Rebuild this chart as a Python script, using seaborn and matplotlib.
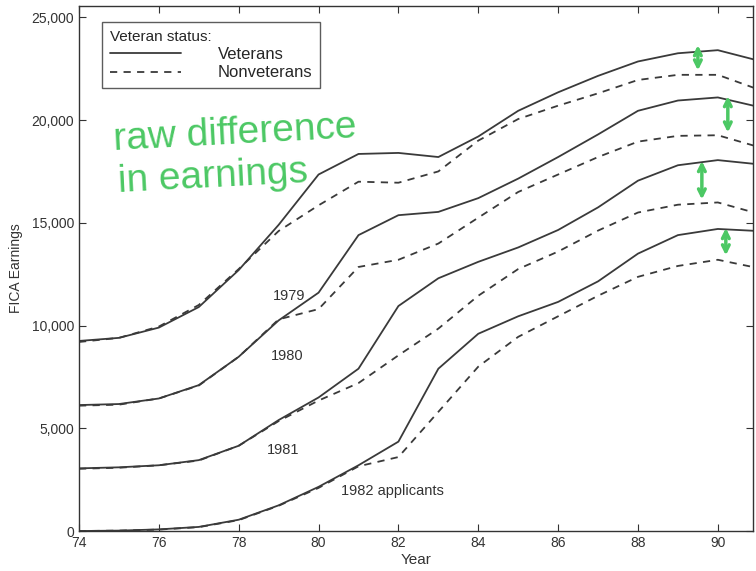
import numpy as np
import pandas as pd
import matplotlib
matplotlib.use("Agg")
import matplotlib.pyplot as plt
from matplotlib.lines import Line2D
from matplotlib.ticker import FuncFormatter
import seaborn as sns

years = list(range(74, 92))

vet_1979 = [9250, 9400, 9900, 10900, 12700, 14900, 17350, 18350, 18400, 18200,
            19200, 20450, 21350, 22150, 22850, 23250, 23400, 22900]
nonvet_1979 = [9200, 9400, 9950, 11000, 12750, 14600, 15850, 17000, 16950, 17500,
               19000, 20050, 20700, 21300, 21950, 22200, 22200, 21500]
vet_1980 = [6130, 6180, 6450, 7100, 8480, 10250, 11600, 14400, 15370, 15530,
            16200, 17150, 18200, 19300, 20450, 20950, 21100, 20650]
nonvet_1980 = [6100, 6150, 6450, 7080, 8480, 10300, 10800, 12850, 13200, 13990,
               15250, 16500, 17350, 18200, 18950, 19230, 19260, 18700]
vet_1981 = [3050, 3100, 3200, 3450, 4150, 5400, 6500, 7900, 10950, 12300,
            13100, 13800, 14650, 15750, 17050, 17800, 18050, 17850]
nonvet_1981 = [3030, 3080, 3200, 3430, 4150, 5350, 6350, 7200, 8550, 9850,
               11450, 12750, 13600, 14620, 15500, 15880, 15990, 15450]
vet_1982 = [0, 20, 80, 200, 550, 1250, 2150, 3200, 4350, 7900,
            9600, 10450, 11150, 12150, 13500, 14400, 14700, 14600]
nonvet_1982 = [0, 20, 70, 190, 530, 1230, 2100, 3150, 3600, 5800,
               8000, 9450, 10450, 11450, 12370, 12900, 13200, 12800]

cohort_labels = ["1979", "1980", "1981", "1982 applicants"]
label_pos = [(78.85, 11430), (78.8, 8510), (78.7, 3940), (80.55, 1950)]

# green hand-drawn arrows (x, top, bottom)
arrows = [(89.5, 23780, 22280), (90.25, 21300, 19260),
          (89.6, 18140, 16000), (90.2, 14880, 13280)]

series = {
    ("1979", "Veterans"): vet_1979, ("1979", "Nonveterans"): nonvet_1979,
    ("1980", "Veterans"): vet_1980, ("1980", "Nonveterans"): nonvet_1980,
    ("1981", "Veterans"): vet_1981, ("1981", "Nonveterans"): nonvet_1981,
    ("1982", "Veterans"): vet_1982, ("1982", "Nonveterans"): nonvet_1982,
}
rows = []
for (cohort, status), vals in series.items():
    for yr, v in zip(years, vals):
        rows.append({"year": yr, "earnings": v, "cohort": cohort, "status": status})
df = pd.DataFrame(rows)

sns.set_style("ticks")
plt.rcParams["font.family"] = ["Liberation Sans", "DejaVu Sans"]

fig = plt.figure(figsize=(7.56, 5.71), dpi=100)
ax = fig.add_axes([0.1045, 0.070, 0.8915, 0.9195])

line_color = "#3a3a3a"
sns.lineplot(data=df, x="year", y="earnings", style="status", units="cohort",
             estimator=None, color=line_color, linewidth=1.3,
             dashes={"Veterans": "", "Nonveterans": (4, 3.5)},
             style_order=["Veterans", "Nonveterans"], legend=False, ax=ax)

ax.set_xlim(74, 90.88)
ax.set_ylim(0, 25550)
ax.set_xticks(range(74, 91, 2))
ax.set_yticks(range(0, 25001, 5000))
ax.yaxis.set_major_formatter(FuncFormatter(lambda v, p: f"{int(v):,}"))
ax.tick_params(direction="in", top=True, right=True, labelsize=10,
               colors="#333333", length=5, width=0.8)
for s in ax.spines.values():
    s.set_color("#333333")
    s.set_linewidth(1.0)
ax.set_xlabel("Year", fontsize=11, color="#333333", labelpad=2)
ax.set_ylabel("FICA Earnings", fontsize=10, color="#333333", labelpad=6)

for lab, (x, y) in zip(cohort_labels, label_pos):
    ax.text(x, y, lab, fontsize=10.5, color="#333333", ha="left", va="center")

handles = [Line2D([], [], color=line_color, lw=1.3, ls="-"),
           Line2D([], [], color=line_color, lw=1.3, ls=(0, (4, 3.5)))]
leg = ax.legend(handles, ["Veterans", "Nonveterans"], title="Veteran status:",
                loc="upper left", bbox_to_anchor=(0.022, 0.985), fontsize=12,
                title_fontsize=11, frameon=True, fancybox=False,
                handlelength=4.3, handletextpad=2.2, borderpad=0.45,
                labelspacing=0.2, edgecolor="#333333")
leg._legend_box.align = "left"
leg.get_frame().set_linewidth(1.0)

green = "#4cc864"
ax.text(74.85, 18530, "raw difference", fontsize=28, color=green,
        va="baseline", ha="left", rotation=3)
ax.text(74.95, 16490, "in earnings", fontsize=28, color=green,
        va="baseline", ha="left", rotation=3)
for x, top, bot in arrows:
    ax.annotate("", xy=(x, top), xytext=(x, bot),
                arrowprops=dict(arrowstyle="<->", color=green, lw=2.5,
                                mutation_scale=12))

fig.savefig("out.png", dpi=100)
